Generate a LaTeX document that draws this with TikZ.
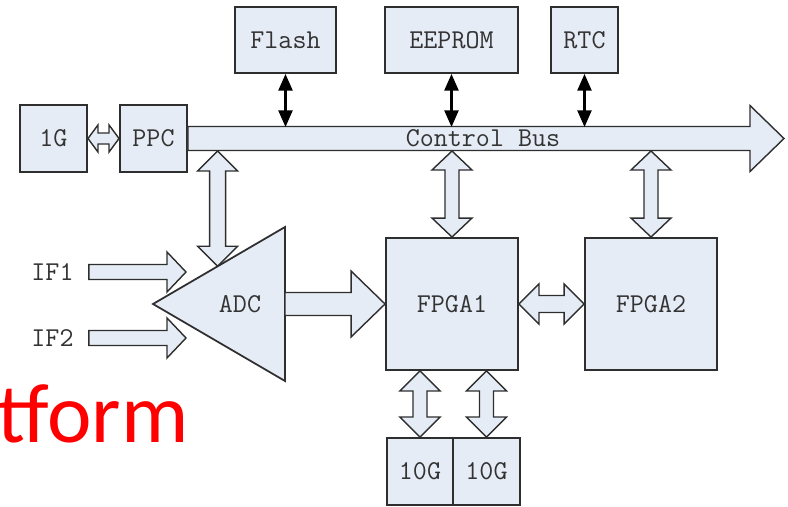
\documentclass[tikz,border=0pt]{standalone}
\usepackage{fontspec}
\newfontfamily\redfont{Carlito}
\usetikzlibrary{calc,arrows.meta}

\definecolor{boxfill}{HTML}{E6ECF6}
\definecolor{edge}{HTML}{2E2E2E}
\definecolor{labelgray}{HTML}{333333}

\tikzset{
  blk/.style={draw=edge, fill=boxfill, line width=1.1pt, inner sep=0pt,
    text=labelgray, font=\ttfamily\fontsize{15.5}{18}\selectfont},
  lbl/.style={inner sep=0pt, text=labelgray, font=\ttfamily\fontsize{15.5}{18}\selectfont},
  fatarrow/.style={draw=edge, fill=boxfill, line width=0.8pt, line join=miter},
  thinboth/.style={draw=black, line width=1.3pt,
    {Triangle[length=9.5pt,width=8pt]}-{Triangle[length=9.5pt,width=8pt]}},
}

% hollow double arrow, #1 top -> #2 bottom (same x)
% #3 half head, #4 half shaft, #5 head length
\newcommand{\fatvert}[5]{%
  \draw[fatarrow] (#1) -- ($(#1)+(#3,#5)$) -- ($(#1)+(#4,#5)$)
    -- ($(#2)+(#4,-#5)$) -- ($(#2)+(#3,-#5)$) -- (#2)
    -- ($(#2)+(-#3,-#5)$) -- ($(#2)+(-#4,-#5)$)
    -- ($(#1)+(-#4,#5)$) -- ($(#1)+(-#3,#5)$) -- cycle;}
% hollow double arrow, #1 left -> #2 right (same y)
\newcommand{\fathorz}[5]{%
  \draw[fatarrow] (#1) -- ($(#1)+(#5,-#3)$) -- ($(#1)+(#5,-#4)$)
    -- ($(#2)+(-#5,-#4)$) -- ($(#2)+(-#5,-#3)$) -- (#2)
    -- ($(#2)+(-#5,#3)$) -- ($(#2)+(-#5,#4)$)
    -- ($(#1)+(#5,#4)$) -- ($(#1)+(#5,#3)$) -- cycle;}
% hollow single arrow pointing right, tail #1, tip #2
\newcommand{\fatright}[5]{%
  \draw[fatarrow] ($(#1)+(0,-#4)$) -- ($(#2)+(-#5,-#4)$)
    -- ($(#2)+(-#5,-#3)$) -- (#2) -- ($(#2)+(-#5,#3)$)
    -- ($(#2)+(-#5,#4)$) -- ($(#1)+(0,#4)$) -- cycle;}

\begin{document}
\begin{tikzpicture}[x=0.02cm, y=-0.02cm]
    \useasboundingbox (0,0) rectangle (788,507);

    % blocks on the bus
    \node[blk, minimum width=1.34cm, minimum height=1.34cm] (g1) at (53.5,138.5) {1G};
    \node[blk, minimum width=1.34cm, minimum height=1.34cm] (ppc) at (153.5,138.5) {PPC};
    \node[blk, minimum width=2.02cm, minimum height=1.32cm] (flash) at (285.5,40) {Flash};
    \node[blk, minimum width=2.66cm, minimum height=1.32cm] (eeprom) at (451.5,40) {EEPROM};
    \node[blk, minimum width=1.34cm, minimum height=1.32cm] (rtc) at (584.5,40) {RTC};

    % the two FPGAs and the 10G ports
    \node[blk, minimum width=2.64cm, minimum height=2.64cm] (fpga1) at (452,304) {FPGA1};
    \node[blk, minimum width=2.64cm, minimum height=2.64cm] (fpga2) at (651,304) {FPGA2};
    \node[blk, minimum width=1.33cm, minimum height=1.34cm] (tena) at (420,471.5) {10G};
    \node[blk, minimum width=1.33cm, minimum height=1.34cm] (tenb) at (486.5,471.5) {10G};

    % bus edges
    \coordinate (bustop) at (0,127);
    \coordinate (busbot) at (0,151);
    \coordinate (busend) at (784,138.5);

    % Control bus
    \fatright{ppc.east}{busend}{33}{12}{34}
    \node[lbl] (busname) at (483,138.5) {Control Bus};

    % memories to bus
    \draw[thinboth] (flash.south) -- (flash.south |- bustop);
    \draw[thinboth] (eeprom.south) -- (eeprom.south |- bustop);
    \draw[thinboth] (rtc.south) -- (rtc.south |- bustop);

    % 1G to PPC
    \fathorz{g1.east}{ppc.west}{13.5}{5.5}{10}

    % ADC corners
    \coordinate (adcl) at (153,304);
    \coordinate (adct) at (285,227);
    \coordinate (adcb) at (285,381);
    \coordinate (adcr) at (285,304);
    \coordinate (adcbus) at ($(adcl)!0.49!(adct)$);

    % bus down to ADC, then the triangle on top
    \fatvert{adcbus |- busbot}{adcbus}{20}{8}{20}
    \draw[fatarrow, line width=1pt] (adcl) -- (adct) -- (adcb) -- cycle;
    \node[lbl] (adc) at (240,304) {ADC};

    % inputs
    \node[lbl] (if1) at (52.5,272) {IF1};
    \node[lbl] (if2) at (52.5,338) {IF2};
    \coordinate (if1tail) at ($(if1.east)+(15,0)$);
    \coordinate (if2tail) at ($(if2.east)+(15,0)$);
    \coordinate (if1tip) at (186,272);
    \coordinate (if2tip) at (186,338);
    \fatright{if1tail}{if1tip}{20}{7.5}{19}
    \fatright{if2tail}{if2tip}{20}{7.5}{19}

    % ADC to FPGA1
    \fatright{adcr}{fpga1.west}{33}{11.5}{34}

    % bus to FPGAs, FPGA1 to FPGA2
    \fatvert{fpga1.north |- busbot}{fpga1.north}{20}{7}{19}
    \fatvert{fpga2.north |- busbot}{fpga2.north}{20}{7}{19}
    \fathorz{fpga1.east}{fpga2.west}{20}{8.5}{20}

    % FPGA1 to 10G
    \fatvert{tena |- fpga1.south}{tena.north}{20}{7}{20}
    \fatvert{tenb |- fpga1.south}{tenb.north}{20}{7}{20}

    % slide title left over
    \node[anchor=base west, inner sep=0pt, text=red, font=\redfont\fontsize{48}{52}\selectfont] (title) at (-3,442) {tform};

\end{tikzpicture}
\end{document}
